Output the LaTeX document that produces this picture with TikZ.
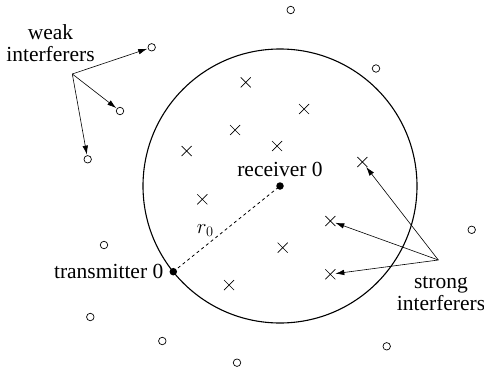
\documentclass[tikz,border=0pt]{standalone}
\usepackage{fontspec}
\setmainfont{Liberation Serif}
\usetikzlibrary{arrows.meta, shapes.misc, positioning}

\begin{document}
\begin{tikzpicture}[
    x=1pt, y=-1pt,
    font=\fontsize{21.5}{22}\selectfont,
    >={Latex[length=9pt, width=5.5pt]},
    weak/.style={draw, circle, line width=0.7pt, inner sep=0pt, minimum size=7.5pt, outer sep=1pt},
    strong/.style={draw, cross out, line width=0.7pt, inner sep=0pt, minimum size=8pt, outer sep=1pt},
    terminal/.style={fill, circle, inner sep=0pt, minimum size=7.5pt},
    caption/.style={inner sep=0pt, align=center},
    arrow/.style={->, line width=0.6pt}
]
\useasboundingbox (0,0) rectangle (484,372);

% Receiver, transmitter and range
\node[terminal] (rx) at (280,186) {};
\node[terminal] (tx) at (173.3,271.7) {};
\draw[line width=1.1pt] (rx.center) circle[radius=137pt];
\draw[dashed, line width=0.8pt] (tx.center) -- (rx.center);

% Weak interferers
\foreach \n/\p in {1/{(151.7,47.3)}, 2/{(120,111)}, 3/{(87.7,159.3)}, 4/{(290.7,10)},
                   5/{(376,68.5)}, 6/{(471.7,229.8)}, 7/{(104,245)}, 8/{(90.3,317)},
                   9/{(162.3,341)}, 10/{(237,362.7)}, 11/{(386.7,346.3)}}
    \node[weak] (w\n) at \p {};

% Strong interferers
\foreach \n/\p in {1/{(245.7,82.3)}, 2/{(304,109)}, 3/{(235,130)}, 4/{(186.7,151)},
                   5/{(277,146)}, 6/{(362.3,162)}, 7/{(202.3,199.3)}, 8/{(330.3,221)},
                   9/{(282.7,247.7)}, 10/{(330.3,274.3)}, 11/{(229,285)}}
    \node[strong] (s\n) at \p {};

% Labels
\node[caption, anchor=base] (rxlabel) at (280,176) {receiver 0};
\node[caption, anchor=base east] (txlabel) at (163.5,278) {transmitter 0};
\node[caption, anchor=base west] (rlabel) at (196.7,233) {$r_0$};
\node[caption] (weaklabel) at (50.5,42.7) {weak\\interferers};
\node[caption] (stronglabel) at (441,294) {strong\\interferers};

\coordinate (weakhub) at (72.3,74);
\coordinate (stronghub) at (438.3,260);

% Arrows
\draw[arrow] (weakhub) -- (w1);
\draw[arrow] (weakhub) -- (w2);
\draw[arrow] (weakhub) -- (w3);
\draw[arrow] (stronghub) -- (s6);
\draw[arrow] (stronghub) -- (s8);
\draw[arrow] (stronghub) -- (s10);

\end{tikzpicture}
\end{document}
